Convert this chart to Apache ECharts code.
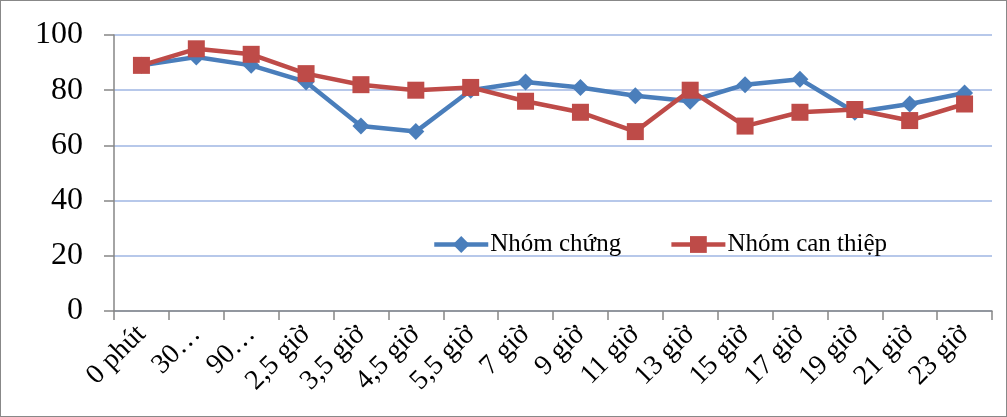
<!DOCTYPE html>
<html><head><meta charset="utf-8">
<script src="https://cdn.jsdelivr.net/npm/echarts@6/dist/echarts.min.js"></script>
<style>html,body{margin:0;padding:0;background:#fff}#c{width:1007px;height:417px;box-sizing:border-box;border:1px solid #888}</style>
</head><body><div id="c"></div>
<script>
const categories = ["0 phút","30…","90…","2,5 giờ","3,5 giờ","4,5 giờ","5,5 giờ","7 giờ","9 giờ","11 giờ","13 giờ","15 giờ","17 giờ","19 giờ","21 giờ","23 giờ"];
const nhomChung = [89,92,89,83,67,65,80,83,81,78,76,82,84,72,75,79];
const nhomCanThiep = [89,95,93,86,82,80,81,76,72,65,80,67,72,73,69,75];
const yTicks = [0,20,40,60,80,100];

const chart = echarts.init(document.getElementById('c'));
const font = '"Liberation Serif","Times New Roman",serif';
chart.setOption({
  animation:false,
  grid:{left:113,right:14,top:34,bottom:105},
  legend:{
    left:426, top:226, itemGap:48, itemWidth:54, itemHeight:21,
    lineStyle:{width:4.5},
    textStyle:{fontFamily:font,fontSize:25,color:'#000',padding:[0,0,0,-3]},
    data:['Nhóm chứng','Nhóm can thiệp']
  },
  xAxis:{
    type:'category', data:categories, boundaryGap:true,
    axisLine:{lineStyle:{color:'#868686',width:1.5}},
    axisTick:{show:true,length:9,lineStyle:{color:'#868686',width:1.5}},
    axisLabel:{rotate:45,fontFamily:font,fontSize:28,color:'#000',margin:19,interval:0}
  },
  yAxis:{
    type:'value', min:yTicks[0], max:yTicks[yTicks.length-1], interval:20,
    axisLine:{show:true,lineStyle:{color:'#868686',width:1.5}},
    axisTick:{show:true,length:10,lineStyle:{color:'#868686',width:1.5}},
    axisLabel:{fontFamily:font,fontSize:32,color:'#000',margin:31},
    splitLine:{lineStyle:{color:'#b7c8ea',width:2}}
  },
  series:[
    {name:'Nhóm chứng',type:'line',data:nhomChung,symbol:'diamond',symbolSize:17,
     lineStyle:{color:'#4a7ebb',width:4.5},itemStyle:{color:'#4a7ebb'}},
    {name:'Nhóm can thiệp',type:'line',data:nhomCanThiep,symbol:'rect',symbolSize:17,
     lineStyle:{color:'#be4b48',width:4.5},itemStyle:{color:'#be4b48'}}
  ]
});
</script></body></html>
